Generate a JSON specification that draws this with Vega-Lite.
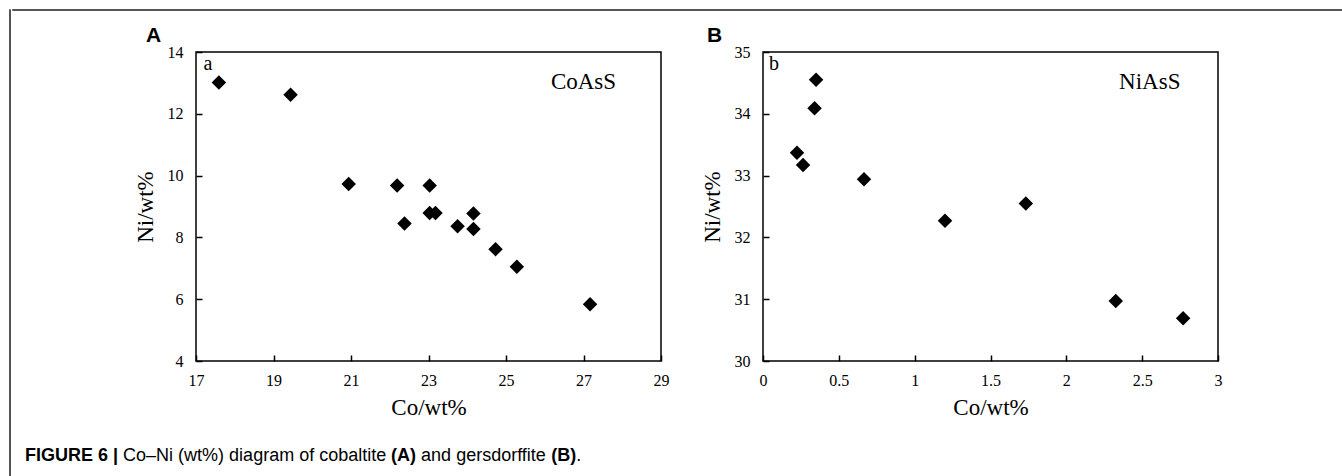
{
  "$schema": "https://vega.github.io/schema/vega-lite/v6.json",
  "padding": {"left": 8, "top": 8, "right": 0, "bottom": 0},
  "background": "white",
  "config": {
    "view": {"stroke": null},
    "font": "Liberation Serif",
    "axis": {
      "grid": false,
      "domain": false,
      "tickSize": -6,
      "tickColor": "black",
      "tickWidth": 1.5,
      "labelFont": "Liberation Serif",
      "labelFontSize": 16,
      "labelColor": "black",
      "labelFlush": false,
      "labelOverlap": false,
      "labelBound": false,
      "titleFont": "Liberation Serif",
      "titleFontSize": 23,
      "titleFontWeight": "normal",
      "titleColor": "black"
    },
    "axisX": {"labelPadding": 17, "titlePadding": 8},
    "axisY": {"labelPadding": 19, "titlePadding": 10},
    "title": {"font": "Liberation Sans", "fontWeight": "bold", "fontSize": 21, "color": "black", "anchor": "start", "frame": "group", "offset": -2}
  },
  "datasets": {
    "cobaltite": [
      {"Co": 17.59, "Ni": 13.01},
      {"Co": 19.44, "Ni": 12.62},
      {"Co": 20.94, "Ni": 9.73},
      {"Co": 22.19, "Ni": 9.68},
      {"Co": 23.03, "Ni": 9.68},
      {"Co": 22.38, "Ni": 8.45},
      {"Co": 23.03, "Ni": 8.79},
      {"Co": 23.18, "Ni": 8.79},
      {"Co": 23.75, "Ni": 8.36},
      {"Co": 24.16, "Ni": 8.77},
      {"Co": 24.16, "Ni": 8.27},
      {"Co": 24.73, "Ni": 7.62},
      {"Co": 25.28, "Ni": 7.05},
      {"Co": 27.17, "Ni": 5.84}
    ],
    "gersdorffite": [
      {"Co": 0.224, "Ni": 33.37},
      {"Co": 0.264, "Ni": 33.17},
      {"Co": 0.34, "Ni": 34.09},
      {"Co": 0.35, "Ni": 34.55},
      {"Co": 0.666, "Ni": 32.94},
      {"Co": 1.2, "Ni": 32.27},
      {"Co": 1.733, "Ni": 32.55},
      {"Co": 2.326, "Ni": 30.97},
      {"Co": 2.77, "Ni": 30.69}
    ],
    "one": [{}],
    "none": []
  },
  "spacing": 0,
  "hconcat": [
    {
      "width": 1,
      "height": 470,
      "view": {"stroke": "#555555", "strokeWidth": 1},
      "data": {"name": "none"},
      "mark": {"type": "point", "opacity": 0}
    },
    {
      "spacing": 13,
      "vconcat": [
        {
          "width": 1340,
          "height": 1,
          "view": {"stroke": "#555555", "strokeWidth": 1},
          "data": {"name": "none"},
          "mark": {"type": "point", "opacity": 0}
        },
        {
          "spacing": 102,
          "bounds": "flush",
          "hconcat": [
            {
              "width": 82,
              "height": 309,
              "data": {"name": "none"},
              "mark": {"type": "point", "opacity": 0}
            },
            {
              "width": 465,
              "height": 309,
              "view": {"stroke": "black", "strokeWidth": 1.5},
              "title": {"text": "A", "dx": -50},
              "layer": [
                {
                  "data": {"name": "cobaltite"},
                  "mark": {"type": "point", "shape": "diamond", "filled": true, "color": "black", "opacity": 1, "size": 210},
                  "encoding": {
                    "x": {"field": "Co", "type": "quantitative", "title": "Co/wt%",
                      "scale": {"domain": [17, 29], "nice": false, "zero": false},
                      "axis": {"values": [17, 19, 21, 23, 25, 27, 29]}},
                    "y": {"field": "Ni", "type": "quantitative", "title": "Ni/wt%",
                      "scale": {"domain": [4, 14], "nice": false, "zero": false},
                      "axis": {"values": [4, 6, 8, 10, 12, 14]}}
                  }
                },
                {
                  "data": {"name": "one"},
                  "mark": {"type": "text", "text": "a", "fontSize": 20, "font": "Liberation Serif", "color": "black"},
                  "encoding": {"x": {"datum": 17.31}, "y": {"datum": 13.6}}
                },
                {
                  "data": {"name": "one"},
                  "mark": {"type": "text", "text": "CoAsS", "fontSize": 23, "font": "Liberation Serif", "color": "black"},
                  "encoding": {"x": {"datum": 27.0}, "y": {"datum": 13.02}}
                }
              ]
            },
            {
              "width": 455,
              "height": 309,
              "view": {"stroke": "black", "strokeWidth": 1.5},
              "title": {"text": "B", "dx": -56},
              "layer": [
                {
                  "data": {"name": "gersdorffite"},
                  "mark": {"type": "point", "shape": "diamond", "filled": true, "color": "black", "opacity": 1, "size": 210},
                  "encoding": {
                    "x": {"field": "Co", "type": "quantitative", "title": "Co/wt%",
                      "scale": {"domain": [0, 3], "nice": false, "zero": false},
                      "axis": {"values": [0, 0.5, 1, 1.5, 2, 2.5, 3], "format": "~g"}},
                    "y": {"field": "Ni", "type": "quantitative", "title": "Ni/wt%",
                      "scale": {"domain": [30, 35], "nice": false, "zero": false},
                      "axis": {"values": [30, 31, 32, 33, 34, 35], "format": "d"}}
                  }
                },
                {
                  "data": {"name": "one"},
                  "mark": {"type": "text", "text": "b", "fontSize": 20, "font": "Liberation Serif", "color": "black"},
                  "encoding": {"x": {"datum": 0.073}, "y": {"datum": 34.8}}
                },
                {
                  "data": {"name": "one"},
                  "mark": {"type": "text", "text": "NiAsS", "fontSize": 23, "font": "Liberation Serif", "color": "black"},
                  "encoding": {"x": {"datum": 2.55}, "y": {"datum": 34.52}}
                }
              ]
            }
          ]
        },
        {
          "width": 1,
          "height": 1,
          "data": {"name": "one"},
          "layer": [
            {"mark": {"type": "text", "text": "FIGURE 6 |", "font": "Liberation Sans", "fontWeight": "bold", "fontSize": 18, "align": "left", "baseline": "middle", "dx": 12.5, "dy": 22, "color": "black"}, "encoding": {}},
            {"mark": {"type": "text", "text": "Co–Ni (wt%) diagram of cobaltite", "font": "Liberation Sans", "fontSize": 18, "align": "left", "baseline": "middle", "dx": 110.6, "dy": 22, "color": "black"}, "encoding": {}},
            {"mark": {"type": "text", "text": "(A)", "font": "Liberation Sans", "fontWeight": "bold", "fontSize": 18, "align": "left", "baseline": "middle", "dx": 378.6, "dy": 22, "color": "black"}, "encoding": {}},
            {"mark": {"type": "text", "text": "and gersdorffite", "font": "Liberation Sans", "fontSize": 18, "align": "left", "baseline": "middle", "dx": 408.6, "dy": 22, "color": "black"}, "encoding": {}},
            {"mark": {"type": "text", "text": "(B)", "font": "Liberation Sans", "fontWeight": "bold", "fontSize": 18, "align": "left", "baseline": "middle", "dx": 538.7, "dy": 22, "color": "black"}, "encoding": {}},
            {"mark": {"type": "text", "text": ".", "font": "Liberation Sans", "fontSize": 18, "align": "left", "baseline": "middle", "dx": 563.7, "dy": 22, "color": "black"}, "encoding": {}}
          ]
        }
      ]
    }
  ]
}
